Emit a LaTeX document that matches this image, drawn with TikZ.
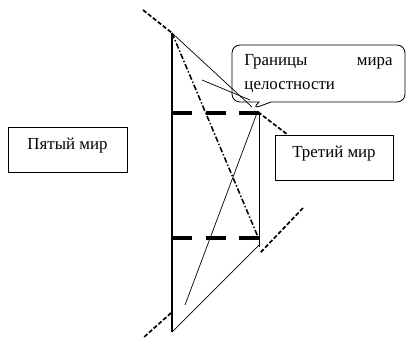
\documentclass[tikz,border=0pt]{standalone}
\usepackage{fontspec}
\setmainfont{Liberation Serif}
\usetikzlibrary{shapes.callouts}

\begin{document}
\begin{tikzpicture}[x=0.025cm,y=-0.025cm,
    thinline/.style={black,line width=0.5pt},
    dashline/.style={black,line width=1.2pt,dash pattern=on 3pt off 1.5pt},
    dashdotline/.style={black,line width=1.1pt,dash pattern=on 4pt off 1.5pt on 1pt off 1.5pt},
    level/.style={black,line width=3.5pt,dash pattern=on 0.5cm off 0.34cm},
    box/.style={draw,line width=0.6pt,font=\fontsize{12}{17}\selectfont,text height=0.3cm,text depth=0.3cm}]
    \useasboundingbox (0,0) rectangle (407,340);

    % corners of the figure
    \coordinate (top) at (172,33);
    \coordinate (bottom) at (172,332);
    \coordinate (rtop) at (259,113);
    \coordinate (rbot) at (259,247);

    \node[box,minimum width=2.975cm,minimum height=1.125cm] (fifth) at (67.5,149.5) {Пятый мир};
    \node[box,minimum width=2.95cm,minimum height=1.125cm] (third) at (334,157.5) {Третий мир};
    \node[draw,line width=0.6pt,rectangle callout,rounded corners=0.2cm,
          callout absolute pointer={(252,109)},callout pointer width=0.3cm,
          minimum width=4.325cm,minimum height=1.425cm,text width=3.7cm,align=left,
          font=\fontsize{12}{17}\selectfont] (border) at (318.5,73.5)
          {Границы\hfill мира\\целостности};

    % the two walls
    \draw [black,line width=0.8pt] (top)--(bottom);
    \draw [thinline] (rtop)--(rbot);

    % the levels
    \draw [level] (172,113)--(259,113);
    \draw [level] (172,238)--(259,238);

    % thin rays
    \coordinate (tip) at (252,107);
    \coordinate (ray) at (202,80);
    \coordinate (foot) at (185,305);
    \draw [thinline] (top)--(tip);
    \draw [thinline] (ray)--(250,100);
    \draw [thinline] (foot)--(257,113);
    \draw [thinline] (bottom)--(259,245);

    % the diagonal
    \draw [dashdotline] (top)--(258,237);

    % dashed borders
    \coordinate (ul) at (143,10);
    \coordinate (ur) at (258,112);
    \coordinate (lr) at (303,208);
    \coordinate (ll) at (143,338);
    \draw [dashline] (ul)--(top);
    \draw [dashline] (ur)--(288,135);
    \draw [dashline] (lr)--(260,253);
    \draw [dashline] (171,313)--(ll);
\end{tikzpicture}
\end{document}
